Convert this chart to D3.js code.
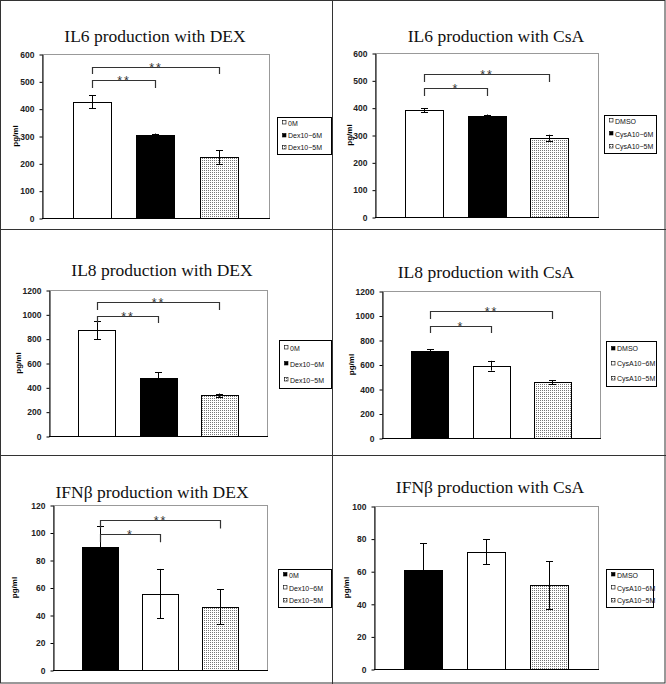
<!DOCTYPE html>
<html>
<head>
<meta charset="utf-8">
<script src="https://cdn.jsdelivr.net/npm/d3@7"></script>
<style>
  body { margin: 0; background: #fff; }
  svg { display: block; }
</style>
</head>
<body>
<script>
// chart values
var titles = ["IL6 production with DEX", "IL6 production with CsA",
              "IL8 production with DEX", "IL8 production with CsA",
              "IFNβ production with DEX", "IFNβ production with CsA"];
var legendLabels = [
  ["0M", "Dex10−6M", "Dex10−5M"],
  ["DMSO", "CysA10−6M", "CysA10−5M"],
  ["0M", "Dex10−6M", "Dex10−5M"],
  ["DMSO", "CysA10−6M", "CysA10−5M"],
  ["0M", "Dex10−6M", "Dex10−5M"],
  ["DMSO", "CysA10−6M", "CysA10−5M"]
];
var means = [[425, 304, 223], [390, 370, 290], [870, 480, 335],
             [710, 590, 455], [89.5, 55.5, 46], [61, 72, 51.5]];
var errs = [[24, 5, 25], [7, 5, 11], [75, 45, 14],
            [14, 40, 15], [15, 18, 12.7], [16, 7.7, 14.6]];
var yMax = [600, 600, 1200, 1200, 120, 100];
var yStep = [100, 100, 200, 200, 20, 20];
var fills = [["white", "black", "dots"], ["white", "black", "dots"], ["white", "black", "dots"],
             ["black", "white", "dots"], ["black", "white", "dots"], ["black", "white", "dots"]];
// [from bar, to bar, tip value, line value, label]
var brackets = [
  [[0, 1, 476, 505, "**"], [0, 2, 527, 552, "**"]],
  [[0, 1, 443, 472, "*"], [0, 2, 494, 523, "**"]],
  [[0, 1, 929, 986, "**"], [0, 2, 1035, 1101, "**"]],
  [[0, 1, 857, 914, "*"], [0, 2, 971, 1037, "**"]],
  [[0, 1, 93, 99, "*"], [0, 2, 103, 109, "**"]],
  []
];

// page layout (pixels)
var layout = [
  {l: 42, t: 54, r: 269, b: 218, tx: 155, ty: 42, lg: [277, 117, 54, 37], yl: 15},
  {l: 375, t: 53, r: 598, b: 217, tx: 496, ty: 42, lg: [604, 115, 52, 38], yl: 349},
  {l: 49, t: 290, r: 267, b: 436, tx: 162, ty: 276, lg: [279, 340, 52, 48], yl: 18},
  {l: 382, t: 291, r: 600, b: 438, tx: 486, ty: 278, lg: [606, 341, 50, 45], yl: 351},
  {l: 53, t: 505, r: 267, b: 670, tx: 152, ty: 498, lg: [278, 569, 53, 38], yl: 14},
  {l: 374, t: 506, r: 598, b: 669, tx: 490, ty: 493, lg: [606, 569, 47, 38], yl: 346}
];

var W = 666, H = 684;
var svg = d3.select("body").append("svg")
    .attr("width", W).attr("height", H);

var defs = svg.append("defs");
var pat = defs.append("pattern")
    .attr("id", "dots")
    .attr("width", 2).attr("height", 2)
    .attr("patternUnits", "userSpaceOnUse");
pat.append("rect").attr("width", 2).attr("height", 2).attr("fill", "#fff");
pat.append("rect").attr("width", 1).attr("height", 1).attr("fill", "#777");

function fillOf(f) { return f == "dots" ? "url(#dots)" : f; }

svg.append("rect").attr("width", W).attr("height", H).attr("fill", "#fff");

// panel frame
var frame = svg.append("g").attr("stroke", "#333").attr("stroke-width", 1).attr("fill", "none");
frame.append("rect").attr("x", 0.5).attr("y", 0.5).attr("width", W - 1.5).attr("height", H - 1.5);
frame.append("line").attr("x1", 332.5).attr("x2", 332.5).attr("y1", 0).attr("y2", H);
frame.append("line").attr("x1", 0).attr("x2", W).attr("y1", 229.5).attr("y2", 229.5);
frame.append("line").attr("x1", 0).attr("x2", W).attr("y1", 455.5).attr("y2", 455.5);

layout.forEach(function(p, k) {
    var g = svg.append("g");

    var x = d3.scaleBand()
        .domain(d3.range(3))
        .range([p.l, p.r])
        .paddingInner(0.4)
        .paddingOuter(0.48);
    var y = d3.scaleLinear().domain([0, yMax[k]]).range([p.b, p.t]);

    // plot area border (grey top / right)
    g.append("rect")
        .attr("x", p.l + 0.5).attr("y", p.t + 0.5)
        .attr("width", p.r - p.l).attr("height", p.b - p.t)
        .attr("fill", "none").attr("stroke", "#999");

    // bars
    g.selectAll(".bar")
        .data(means[k])
        .enter().append("rect")
            .attr("x", function(d, i) { return Math.round(x(i)) + 0.5; })
            .attr("y", function(d) { return Math.round(y(d)) + 0.5; })
            .attr("width", Math.round(x.bandwidth()))
            .attr("height", function(d) { return Math.round(y(0)) - Math.round(y(d)); })
            .attr("fill", function(d, i) { return fillOf(fills[k][i]); })
            .attr("stroke", "#000").attr("stroke-width", 1);

    // error bars
    var eb = g.selectAll(".err")
        .data(means[k])
        .enter().append("g")
            .attr("stroke", "#000").attr("stroke-width", 1);
    eb.append("line")
        .attr("x1", function(d, i) { return Math.round(x(i) + x.bandwidth() / 2) + 0.5; })
        .attr("x2", function(d, i) { return Math.round(x(i) + x.bandwidth() / 2) + 0.5; })
        .attr("y1", function(d, i) { return y(d - errs[k][i]); })
        .attr("y2", function(d, i) { return y(d + errs[k][i]); });
    [1, -1].forEach(function(s) {
        eb.append("line")
            .attr("x1", function(d, i) { return Math.round(x(i) + x.bandwidth() / 2) - 3; })
            .attr("x2", function(d, i) { return Math.round(x(i) + x.bandwidth() / 2) + 4; })
            .attr("y1", function(d, i) { return Math.round(y(d + s * errs[k][i])) + 0.5; })
            .attr("y2", function(d, i) { return Math.round(y(d + s * errs[k][i])) + 0.5; });
    });

    // y axis
    var ax = g.append("g")
        .attr("transform", "translate(" + (p.l + 0.5) + ",0.5)")
        .call(d3.axisLeft(y)
            .tickValues(d3.range(0, yMax[k] + 1, yStep[k]))
            .tickFormat(d3.format("d"))
            .tickSize(3).tickSizeOuter(0).tickPadding(5));
    ax.selectAll("text")
        .style("font-family", "Liberation Sans, Arial, sans-serif")
        .style("font-weight", "bold")
        .style("font-size", "8.5px")
        .attr("fill", "#222");
    ax.select(".domain").attr("stroke", "#000");

    // x axis line
    g.append("line")
        .attr("x1", p.l).attr("x2", p.r + 1)
        .attr("y1", p.b + 0.5).attr("y2", p.b + 0.5)
        .attr("stroke", "#000");

    // y label
    g.append("text")
        .attr("transform", "translate(" + (p.yl + 3) + "," + ((p.t + p.b) / 2) + ") rotate(-90)")
        .attr("text-anchor", "middle")
        .style("font-family", "Liberation Sans, Arial, sans-serif")
        .style("font-weight", "bold")
        .style("font-size", "8px")
        .text("pg/ml");

    // title
    g.append("text")
        .attr("x", p.tx).attr("y", p.ty)
        .attr("text-anchor", "middle")
        .style("font-family", "Liberation Serif, Times New Roman, serif")
        .style("font-size", "17.5px")
        .attr("fill", "#111")
        .text(titles[k]);

    // significance brackets
    brackets[k].forEach(function(b) {
        var x1 = Math.round(x(b[0]) + x.bandwidth() / 2) + 0.5,
            x2 = Math.round(x(b[1]) + x.bandwidth() / 2) + 0.5,
            yl = Math.round(y(b[3])) + 0.5,
            yt = y(b[2]);
        g.append("path")
            .attr("d", "M" + x1 + "," + yt + "V" + yl + "H" + x2 + "V" + yt)
            .attr("fill", "none").attr("stroke", "#333").attr("stroke-width", 1.2);
        g.append("text")
            .attr("x", (x1 + x2) / 2).attr("y", yl + 4)
            .attr("text-anchor", "middle")
            .style("font-family", "Liberation Sans, Arial, sans-serif")
            .style("font-size", "12.5px")
            .style("letter-spacing", "2px")
            .attr("fill", "#333")
            .text(b[4]);
    });

    // legend
    var lg = p.lg;
    g.append("rect")
        .attr("x", lg[0] + 0.5).attr("y", lg[1] + 0.5)
        .attr("width", lg[2]).attr("height", lg[3])
        .attr("fill", "#fff").attr("stroke", "#000");
    var rowH = lg[3] / 3;
    legendLabels[k].forEach(function(lab, i) {
        var cy = lg[1] + rowH * (i + 0.5);
        g.append("rect")
            .attr("x", lg[0] + 5.5).attr("y", Math.round(cy - 3) + 0.5)
            .attr("width", 3.5).attr("height", 3.5)
            .attr("fill", fillOf(fills[k][i]))
            .attr("stroke", "#000").attr("stroke-width", 0.6);
        g.append("text")
            .attr("x", lg[0] + 11).attr("y", cy + 2.5)
            .style("font-family", "Liberation Sans, Arial, sans-serif")
            .style("font-size", "7px")
            .attr("fill", "#111")
            .text(lab);
    });
});
</script>
</body>
</html>
